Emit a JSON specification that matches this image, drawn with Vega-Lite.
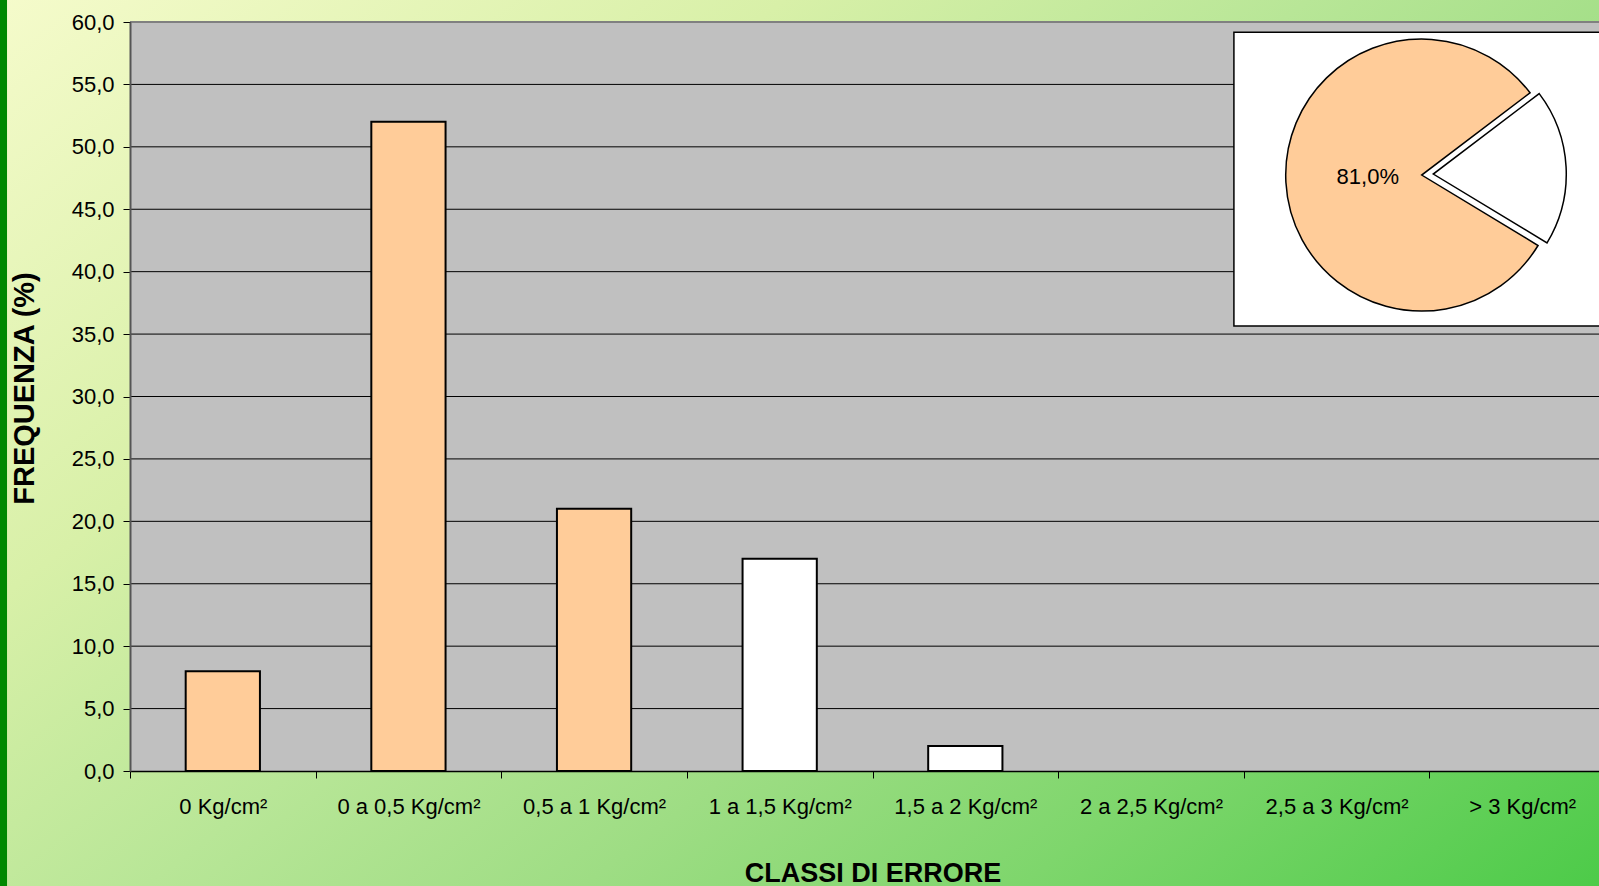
{
  "$schema": "https://vega.github.io/schema/vega-lite/v6.json",
  "width": 1469,
  "height": 749,
  "autosize": {"type": "none"},
  "padding": {"left": 130, "top": 22, "right": 0, "bottom": 115},
  "background": "#c8eba0",
  "config": {
    "font": "Liberation Sans",
    "view": {"stroke": null},
    "locale": {"number": {"decimal": ",", "thousands": ".", "grouping": [3], "currency": ["€", ""]}}
  },
  "datasets": {
    "classi": [
      {"classe": "0 Kg/cm²", "frequenza": 8, "gruppo": "entro 1 Kg/cm²"},
      {"classe": "0 a 0,5 Kg/cm²", "frequenza": 52, "gruppo": "entro 1 Kg/cm²"},
      {"classe": "0,5 a 1 Kg/cm²", "frequenza": 21, "gruppo": "entro 1 Kg/cm²"},
      {"classe": "1 a 1,5 Kg/cm²", "frequenza": 17, "gruppo": "oltre 1 Kg/cm²"},
      {"classe": "1,5 a 2 Kg/cm²", "frequenza": 2, "gruppo": "oltre 1 Kg/cm²"},
      {"classe": "2 a 2,5 Kg/cm²", "frequenza": 0, "gruppo": "oltre 1 Kg/cm²"},
      {"classe": "2,5 a 3 Kg/cm²", "frequenza": 0, "gruppo": "oltre 1 Kg/cm²"},
      {"classe": "> 3 Kg/cm²", "frequenza": 0, "gruppo": "oltre 1 Kg/cm²"}
    ],
    "torta": [
      {"gruppo": "entro 1 Kg/cm²", "quota": 0.81},
      {"gruppo": "oltre 1 Kg/cm²", "quota": 0.19}
    ],
    "vuoto": [{}]
  },
  "resolve": {"scale": {"x": "independent"}},
  "layer": [
    {
      "data": {"name": "vuoto"},
      "mark": {"type": "rect", "stroke": null, "fill": {"gradient": "linear", "x1": 0, "y1": 0, "x2": 1.19, "y2": 0.865,
        "stops": [
          {"offset": 0, "color": "#f5fbcb"},
          {"offset": 0.27, "color": "#d8f0a8"},
          {"offset": 0.45, "color": "#b8e697"},
          {"offset": 0.6, "color": "#9edd84"},
          {"offset": 0.75, "color": "#7ed66c"},
          {"offset": 1, "color": "#40c840"}
        ]}},
      "encoding": {
        "x": {"datum": -0.71, "type": "quantitative", "scale": {"domain": [0, 8], "range": [0, 1485], "nice": false, "zero": false}, "axis": null},
        "x2": {"datum": 7.92},
        "y": {"datum": 61.8, "type": "quantitative"},
        "y2": {"datum": -9.25}
      }
    },
    {
      "data": {"name": "vuoto"},
      "mark": {"type": "rect", "fill": "#008800", "stroke": null},
      "encoding": {
        "x": {"datum": -0.71, "type": "quantitative", "scale": {"domain": [0, 8], "range": [0, 1485], "nice": false, "zero": false}, "axis": null},
        "x2": {"datum": -0.6625},
        "y": {"datum": 61.8, "type": "quantitative"},
        "y2": {"datum": -9.25}
      }
    },
    {
      "data": {"name": "vuoto"},
      "mark": {"type": "rect", "fill": "#c0c0c0", "stroke": null},
      "encoding": {
        "y": {"datum": 60, "type": "quantitative"},
        "y2": {"datum": 0}
      }
    },
    {"data": {"name": "vuoto"}, "mark": {"type": "rule", "color": "#000000", "strokeWidth": 1}, "encoding": {"y": {"datum": 5, "type": "quantitative"}}},
    {"data": {"name": "vuoto"}, "mark": {"type": "rule", "color": "#000000", "strokeWidth": 1}, "encoding": {"y": {"datum": 10, "type": "quantitative"}}},
    {"data": {"name": "vuoto"}, "mark": {"type": "rule", "color": "#000000", "strokeWidth": 1}, "encoding": {"y": {"datum": 15, "type": "quantitative"}}},
    {"data": {"name": "vuoto"}, "mark": {"type": "rule", "color": "#000000", "strokeWidth": 1}, "encoding": {"y": {"datum": 20, "type": "quantitative"}}},
    {"data": {"name": "vuoto"}, "mark": {"type": "rule", "color": "#000000", "strokeWidth": 1}, "encoding": {"y": {"datum": 25, "type": "quantitative"}}},
    {"data": {"name": "vuoto"}, "mark": {"type": "rule", "color": "#000000", "strokeWidth": 1}, "encoding": {"y": {"datum": 30, "type": "quantitative"}}},
    {"data": {"name": "vuoto"}, "mark": {"type": "rule", "color": "#000000", "strokeWidth": 1}, "encoding": {"y": {"datum": 35, "type": "quantitative"}}},
    {"data": {"name": "vuoto"}, "mark": {"type": "rule", "color": "#000000", "strokeWidth": 1}, "encoding": {"y": {"datum": 40, "type": "quantitative"}}},
    {"data": {"name": "vuoto"}, "mark": {"type": "rule", "color": "#000000", "strokeWidth": 1}, "encoding": {"y": {"datum": 45, "type": "quantitative"}}},
    {"data": {"name": "vuoto"}, "mark": {"type": "rule", "color": "#000000", "strokeWidth": 1}, "encoding": {"y": {"datum": 50, "type": "quantitative"}}},
    {"data": {"name": "vuoto"}, "mark": {"type": "rule", "color": "#000000", "strokeWidth": 1}, "encoding": {"y": {"datum": 55, "type": "quantitative"}}},
    {"data": {"name": "vuoto"}, "mark": {"type": "rule", "color": "#808080", "strokeWidth": 2}, "encoding": {"y": {"datum": 60, "type": "quantitative"}}},
    {
      "data": {"name": "classi"},
      "mark": {"type": "bar", "width": {"band": 0.4}, "stroke": "#000000", "strokeWidth": 2},
      "encoding": {
        "x": {
          "field": "classe", "type": "nominal", "sort": null,
          "scale": {"range": [0, 1485], "paddingInner": 0, "paddingOuter": 0},
          "axis": {
            "title": "CLASSI DI ERRORE", "titleFontSize": 27, "titleFontWeight": "bold", "titleColor": "#000000",
            "titleBaseline": "alphabetic", "titleY": 110, "titleAnchor": "middle",
            "labelAngle": 0, "labelFontSize": 22, "labelColor": "#000000", "labelPadding": 18, "labelOverlap": false, "labelLimit": 300,
            "tickBand": "extent", "tickSize": 7, "tickColor": "#000000", "tickWidth": 1,
            "domainColor": "#000000", "domainWidth": 1.5, "grid": false, "zindex": 1
          }
        },
        "y": {
          "field": "frequenza", "type": "quantitative",
          "scale": {"domain": [0, 60], "nice": false},
          "axis": {
            "title": "FREQUENZA (%)", "titleFontSize": 29, "titleFontWeight": "bold", "titleColor": "#000000",
            "titleBaseline": "alphabetic", "titleX": -97, "titleY": 366, "titleAngle": -90,
            "values": [0, 5, 10, 15, 20, 25, 30, 35, 40, 45, 50, 55, 60],
            "labelExpr": "replace(format(datum.value, '.1f'), '.', ',')",
            "labelFontSize": 22, "labelColor": "#000000", "labelPadding": 9,
            "tickSize": 7, "tickColor": "#000000", "domainColor": "#555555", "domainWidth": 2,
            "grid": false, "zindex": 1
          }
        },
        "fill": {"field": "gruppo", "type": "nominal", "scale": {"domain": ["entro 1 Kg/cm²", "oltre 1 Kg/cm²"], "range": ["#ffcc99", "#ffffff"]}, "legend": null},
        "strokeOpacity": {"condition": {"test": "datum.frequenza === 0", "value": 0}, "value": 1}
      }
    },
    {
      "data": {"name": "vuoto"},
      "mark": {"type": "rect", "fill": "#ffffff", "stroke": "#000000", "strokeWidth": 1.5},
      "encoding": {
        "x": {"datum": 5.947, "type": "quantitative", "scale": {"domain": [0, 8], "range": [0, 1485], "nice": false, "zero": false}, "axis": null},
        "x2": {"datum": 8.5},
        "y": {"datum": 59.17, "type": "quantitative"},
        "y2": {"datum": 35.65}
      }
    },
    {
      "data": {"name": "torta"},
      "mark": {"type": "arc", "radius": 136, "stroke": "#000000", "strokeWidth": 1.5},
      "encoding": {
        "x": {"datum": 6.9587, "type": "quantitative", "scale": {"domain": [0, 8], "range": [0, 1485], "nice": false, "zero": false}, "axis": null},
        "y": {"datum": 47.74, "type": "quantitative"},
        "theta": {"field": "quota", "type": "quantitative", "stack": true, "scale": {"range": [2.1153, 8.3985]}},
        "order": {"field": "quota", "sort": "descending"},
        "fill": {"field": "gruppo", "type": "nominal", "scale": {"domain": ["entro 1 Kg/cm²", "oltre 1 Kg/cm²"], "range": ["#ffcc99", "#ffffff"]}, "legend": null},
        "opacity": {"condition": {"test": "datum.gruppo === 'oltre 1 Kg/cm²'", "value": 0}, "value": 1}
      }
    },
    {
      "data": {"name": "torta"},
      "mark": {"type": "arc", "radius": 133, "stroke": "#000000", "strokeWidth": 1.5},
      "encoding": {
        "x": {"datum": 7.021, "type": "quantitative", "scale": {"domain": [0, 8], "range": [0, 1485], "nice": false, "zero": false}, "axis": null},
        "y": {"datum": 47.82, "type": "quantitative"},
        "theta": {"field": "quota", "type": "quantitative", "stack": true, "scale": {"range": [2.1153, 8.3985]}},
        "order": {"field": "quota", "sort": "descending"},
        "fill": {"field": "gruppo", "type": "nominal", "scale": {"domain": ["entro 1 Kg/cm²", "oltre 1 Kg/cm²"], "range": ["#ffcc99", "#ffffff"]}, "legend": null},
        "opacity": {"condition": {"test": "datum.gruppo === 'oltre 1 Kg/cm²'", "value": 1}, "value": 0}
      }
    },
    {
      "data": {"name": "torta"},
      "mark": {"type": "text", "radius": 54, "fontSize": 22, "color": "#000000", "align": "center", "baseline": "middle", "dy": -1},
      "encoding": {
        "x": {"datum": 6.9587, "type": "quantitative", "scale": {"domain": [0, 8], "range": [0, 1485], "nice": false, "zero": false}, "axis": null},
        "y": {"datum": 47.74, "type": "quantitative"},
        "theta": {"field": "quota", "type": "quantitative", "stack": true, "scale": {"range": [2.1153, 8.3985]}},
        "order": {"field": "quota", "sort": "descending"},
        "text": {"field": "quota", "type": "quantitative", "format": ".1%"},
        "opacity": {"condition": {"test": "datum.gruppo === 'oltre 1 Kg/cm²'", "value": 0}, "value": 1}
      }
    }
  ]
}
